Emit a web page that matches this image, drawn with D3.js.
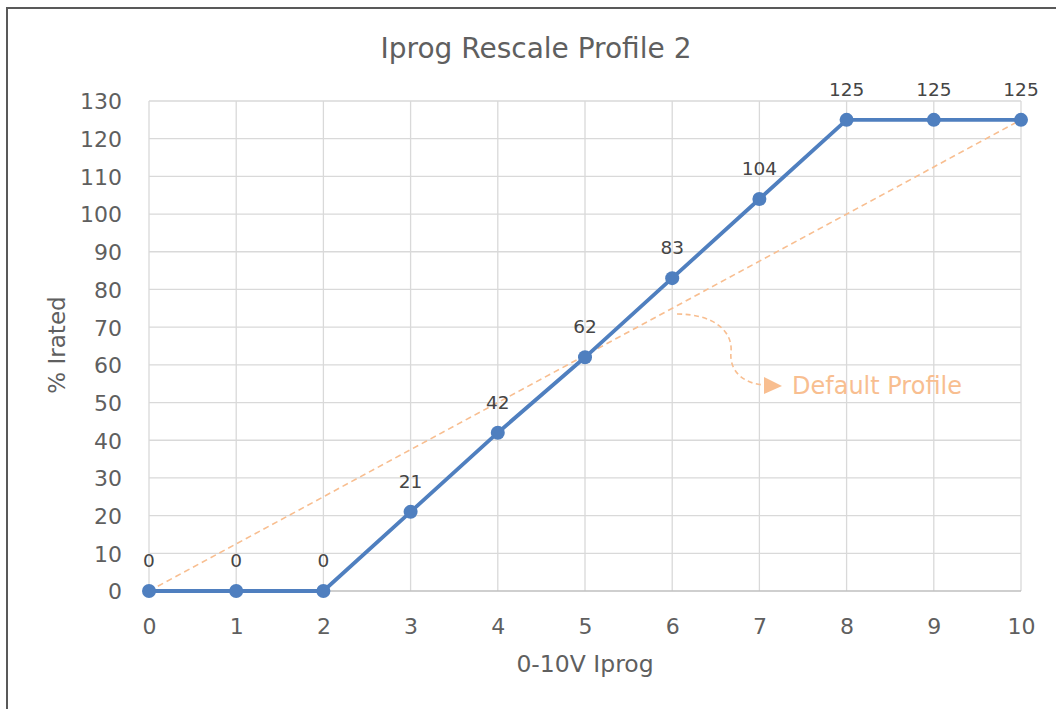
<!DOCTYPE html>
<html>
<head>
<meta charset="utf-8">
<script src="https://cdn.jsdelivr.net/npm/d3@7"></script>
<style>
  html, body { margin: 0; padding: 0; background: #fff; }
  svg { display: block; }
  text { font-family: "DejaVu Sans", "Noto Sans", sans-serif; }
</style>
</head>
<body>
<svg id="chart" width="1056" height="709"></svg>
<script>
// Iprog control voltage (V) and resulting % of rated current
const voltage = [0, 1, 2, 3, 4, 5, 6, 7, 8, 9, 10];
const irated = [0, 0, 0, 21, 42, 62, 83, 104, 125, 125, 125];
// Default linear profile end points
const defaultVoltage = [0, 10];
const defaultIrated = [0, 125];
const xTicks = [0, 1, 2, 3, 4, 5, 6, 7, 8, 9, 10];
const yTicks = [0, 10, 20, 30, 40, 50, 60, 70, 80, 90, 100, 110, 120, 130];

const FONT = "'DejaVu Sans', 'Noto Sans', sans-serif";
const TEXT = "#5f5f5f";
const svg = d3.select("#chart");
const W = 1056, H = 709;

// outer chart frame
svg.append("rect")
  .attr("x", 7).attr("y", 8)
  .attr("width", W + 10).attr("height", H + 10)
  .attr("fill", "#fff").attr("stroke", "#595959").attr("stroke-width", 2);

const x = d3.scaleLinear().domain([0, 10]).range([149, 1021]);
const y = d3.scaleLinear().domain([0, 130]).range([591, 101]);

// gridlines
svg.append("g").selectAll("line.h")
  .data(yTicks.filter(d => d > 0)).join("line")
  .attr("x1", x(0)).attr("x2", x(10))
  .attr("y1", d => y(d)).attr("y2", d => y(d))
  .attr("stroke", "#d9d9d9").attr("stroke-width", 1.3);
svg.append("g").selectAll("line.v")
  .data(xTicks).join("line")
  .attr("x1", d => x(d)).attr("x2", d => x(d))
  .attr("y1", y(130)).attr("y2", y(0))
  .attr("stroke", "#d9d9d9").attr("stroke-width", 1.3);
svg.append("line")
  .attr("x1", x(0)).attr("x2", x(10))
  .attr("y1", y(0)).attr("y2", y(0))
  .attr("stroke", "#bfbfbf").attr("stroke-width", 1.3);

// axes (labels only)
const xAxis = svg.append("g").attr("transform", `translate(0,${y(0)})`)
  .call(d3.axisBottom(x).tickValues(xTicks).tickSize(0).tickPadding(0));
const yAxis = svg.append("g").attr("transform", `translate(${x(0)},0)`)
  .call(d3.axisLeft(y).tickValues(yTicks).tickSize(0).tickPadding(27));
[xAxis, yAxis].forEach(g => {
  g.select(".domain").remove();
  g.selectAll("text")
    .attr("font-family", FONT)
    .attr("font-size", 22).attr("fill", TEXT);
});
xAxis.selectAll("text").attr("y", 43).attr("dy", null);
yAxis.selectAll("text").attr("dy", "0.36em");

// default profile (dashed)
svg.append("line")
  .attr("x1", x(defaultVoltage[0])).attr("y1", y(defaultIrated[0]))
  .attr("x2", x(defaultVoltage[1])).attr("y2", y(defaultIrated[1]))
  .attr("stroke", "#f8be90").attr("stroke-width", 1.6)
  .attr("stroke-dasharray", "6,4");

// rescale profile
const pts = voltage.map((v, i) => [v, irated[i]]);
svg.append("path")
  .datum(pts)
  .attr("fill", "none")
  .attr("stroke", "#4f7fbf").attr("stroke-width", 3.8)
  .attr("stroke-linejoin", "round")
  .attr("d", d3.line().x(d => x(d[0])).y(d => y(d[1])));
svg.append("g").selectAll("circle")
  .data(pts).join("circle")
  .attr("cx", d => x(d[0])).attr("cy", d => y(d[1]))
  .attr("r", 7).attr("fill", "#4f7fbf");

// value labels
svg.append("g").selectAll("text")
  .data(pts).join("text")
  .attr("x", d => x(d[0])).attr("y", d => y(d[1]) - 24)
  .attr("text-anchor", "middle")
  .attr("font-size", 18.5).attr("fill", "#454545")
  .text(d => d[1]);

// title
svg.append("text")
  .attr("x", 536).attr("y", 58)
  .attr("text-anchor", "middle")
  .attr("font-size", 28).attr("fill", TEXT)
  .text("Iprog Rescale Profile 2");

// axis titles
svg.append("text")
  .attr("x", 585).attr("y", 672)
  .attr("text-anchor", "middle")
  .attr("font-size", 23.5).attr("fill", TEXT)
  .text("0-10V Iprog");
svg.append("text")
  .attr("transform", "translate(65,345) rotate(-90)")
  .attr("text-anchor", "middle")
  .attr("font-size", 23).attr("fill", TEXT)
  .text("% Irated");

// callout for default profile
const annColor = "#f8be90";
svg.append("path")
  .attr("d", "M677,314 C712,314 733,330 731,352 C729,372 745,385 767,385")
  .attr("fill", "none").attr("stroke", annColor).attr("stroke-width", 1.6)
  .attr("stroke-dasharray", "5,3.5");
svg.append("path")
  .attr("d", "M764,377 L782,386 L764,394 Z")
  .attr("fill", annColor);
svg.append("text")
  .attr("x", 792).attr("y", 394)
  .attr("font-size", 24).attr("fill", annColor)
  .text("Default Profile");
</script>
</body>
</html>
